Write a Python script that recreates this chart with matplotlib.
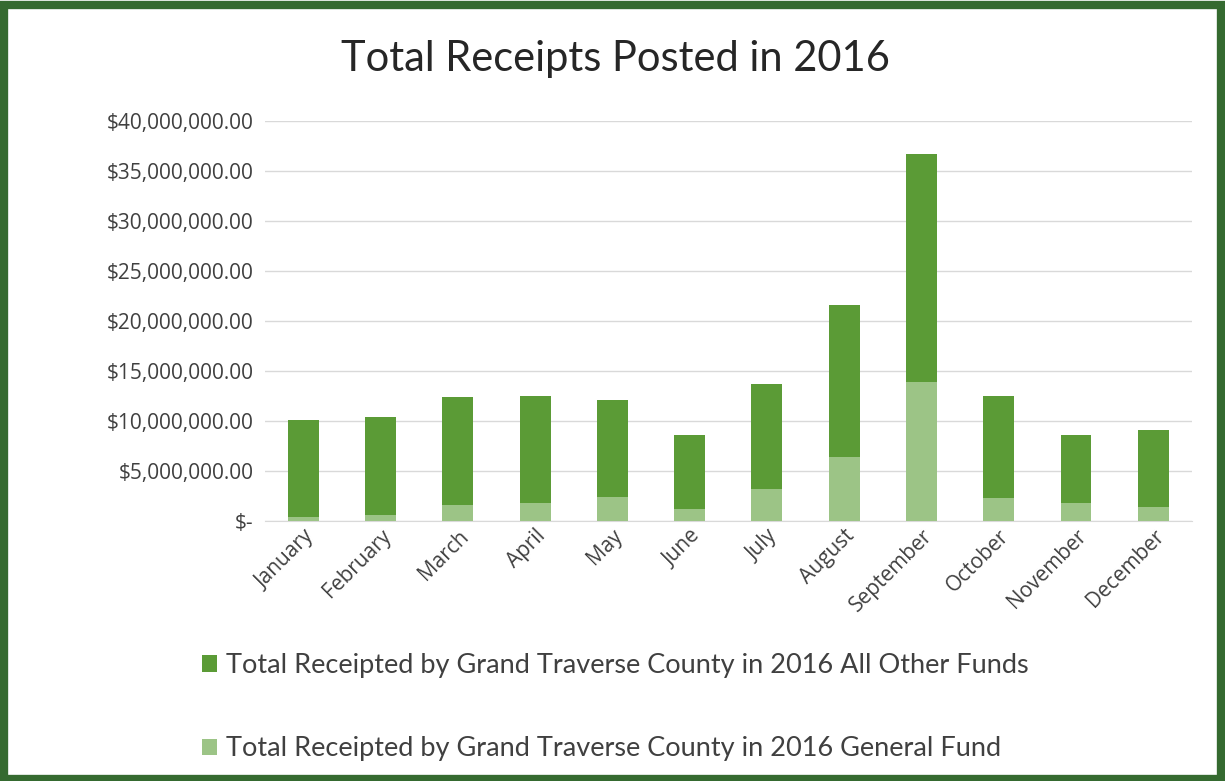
import numpy as np
import matplotlib.pyplot as plt
from matplotlib.patches import Rectangle
from matplotlib.ticker import FuncFormatter

months = ["January", "February", "March", "April", "May", "June", "July",
          "August", "September", "October", "November", "December"]
# totals, in dollars
totals = np.array([10.1, 10.4, 12.4, 12.5, 12.1, 8.6, 13.7, 21.6, 36.7, 12.5, 8.6, 9.1]) * 1e6
general = np.array([0.4, 0.6, 1.6, 1.8, 2.4, 1.2, 3.2, 6.4, 13.9, 2.3, 1.8, 1.4]) * 1e6
other = totals - general

dark = "#5b9b36"
light = "#9cc486"

fig = plt.figure(figsize=(12.25, 7.81), dpi=100)
ax = fig.add_axes([0.216, 0.333, 0.757, 0.512])

x = np.arange(len(months))
ax.bar(x, general, width=0.4, color=light, label="Total Receipted by Grand Traverse County in 2016 General Fund", zorder=3)
ax.bar(x, other, width=0.4, bottom=general, color=dark, label="Total Receipted by Grand Traverse County in 2016 All Other Funds", zorder=3)

ax.set_xlim(-0.5, 11.5)
ax.set_ylim(0, 40e6)
ax.set_yticks(np.arange(0, 40e6 + 1, 5e6))


def money(v, pos):
    if v == 0:
        return "$-"
    return "${:,.2f}".format(v)


ax.yaxis.set_major_formatter(FuncFormatter(money))
ax.grid(axis="y", color="#d9d9d9", linewidth=1, zorder=0)
for s in ["top", "right", "left"]:
    ax.spines[s].set_visible(False)
ax.spines["bottom"].set_color("#d9d9d9")
ax.tick_params(axis="both", length=0, colors="#404040")
ax.tick_params(axis="y", labelsize=15, pad=8)
ax.set_xticks(x)
ax.set_xticklabels(months, rotation=45, ha="right", rotation_mode="anchor", fontsize=15)
for lab in ax.get_yticklabels() + ax.get_xticklabels():
    lab.set_family("Open Sans")

fig.text(0.502, 0.925, "Total Receipts Posted in 2016", ha="center", va="center",
         fontsize=30, family="Lato", color="#262626")

handles, labels = ax.get_legend_handles_labels()
fig.legend(handles[::-1], labels[::-1], loc="upper left", bbox_to_anchor=(0.145, 0.195),
           frameon=False, prop={"family": "Lato", "size": 19.5},
           handlelength=0.55, handleheight=0.55, handletextpad=0.35, labelspacing=2.15,
           labelcolor="#404040")

fig.patches.append(Rectangle((0.003, 0.003), 0.994, 0.991, transform=fig.transFigure,
                             fill=False, edgecolor="#356a30", linewidth=6))

fig.savefig("out.png", dpi=100)
